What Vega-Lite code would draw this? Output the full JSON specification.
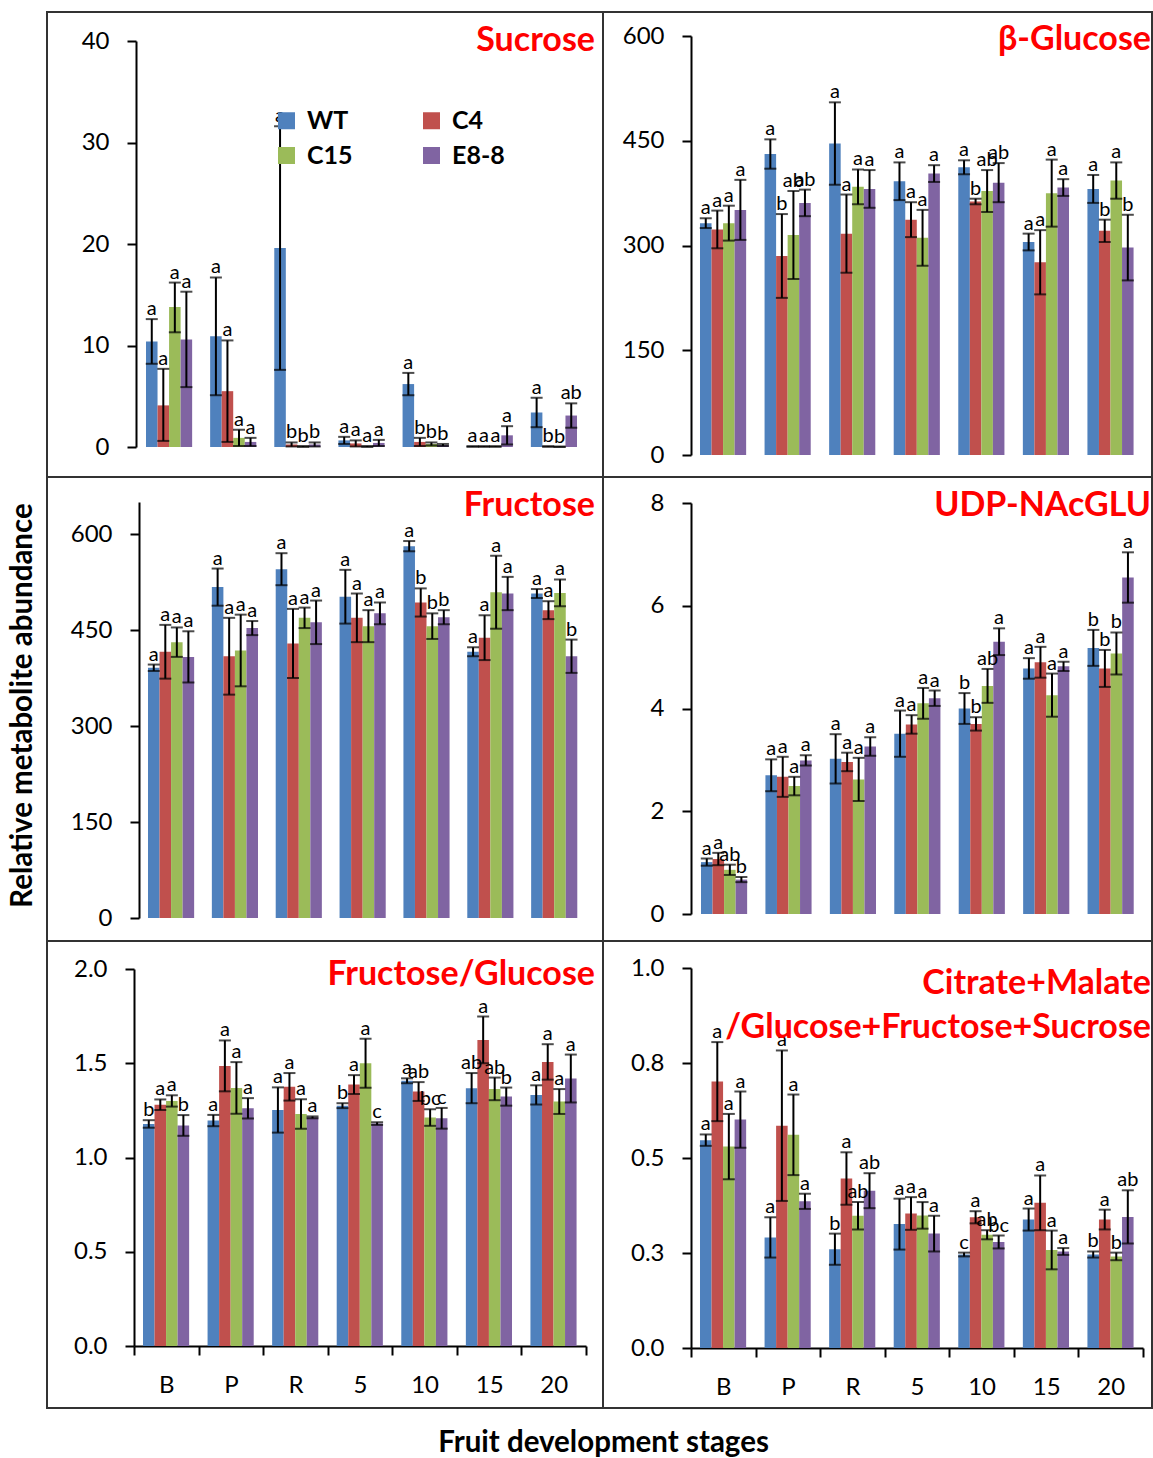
{
  "$schema": "https://vega.github.io/schema/vega-lite/v6.json",
  "padding": {"left": 5, "top": 11, "right": 0, "bottom": 0},
  "autosize": {"type": "pad"},
  "background": "white",
  "config": {
    "font": "Lato",
    "view": {"stroke": "#333333", "strokeWidth": 2, "fill": "white"},
    "axis": {
      "domainColor": "black",
      "domainWidth": 2,
      "tickColor": "black",
      "tickWidth": 2,
      "tickSize": 9,
      "labelFont": "Lato",
      "labelFontSize": 24,
      "labelColor": "black",
      "labelPadding": 18,
      "grid": false,
      "titleFont": "Lato"
    },
    "title": {
      "font": "Lato",
      "fontSize": 34,
      "fontWeight": "bold",
      "color": "#FF0000",
      "anchor": "end",
      "frame": "group",
      "orient": "top",
      "baseline": "alphabetic"
    },
    "legend": {
      "orient": "none",
      "legendX": 227,
      "legendY": 96,
      "columns": 2,
      "symbolType": "square",
      "symbolSize": 289,
      "symbolStrokeWidth": 0,
      "symbolOpacity": 1,
      "labelFont": "Lato",
      "labelFontSize": 25,
      "labelFontWeight": "bold",
      "labelColor": "black",
      "labelOffset": 8,
      "labelLimit": 0,
      "columnPadding": 66,
      "rowPadding": 9
    },
    "text": {"fontSize": 20, "color": "black"}
  },
  "datasets": {
    "sucrose": [
      {"s": "B", "g": "WT", "v": 10.4, "lo": 8.2, "hi": 12.6, "t": "a"},
      {"s": "B", "g": "C4", "v": 4.1, "lo": 0.6, "hi": 7.7, "t": "a"},
      {"s": "B", "g": "C15", "v": 13.8, "lo": 11.3, "hi": 16.2, "t": "a"},
      {"s": "B", "g": "E8-8", "v": 10.6, "lo": 5.9, "hi": 15.3, "t": "a"},
      {"s": "P", "g": "WT", "v": 10.9, "lo": 5.1, "hi": 16.7, "t": "a"},
      {"s": "P", "g": "C4", "v": 5.5, "lo": 0.5, "hi": 10.5, "t": "a"},
      {"s": "P", "g": "C15", "v": 0.9, "lo": 0.1, "hi": 1.7, "t": "a"},
      {"s": "P", "g": "E8-8", "v": 0.5, "lo": 0.1, "hi": 0.9, "t": "a"},
      {"s": "R", "g": "WT", "v": 19.6, "lo": 7.6, "hi": 31.6, "t": "a"},
      {"s": "R", "g": "C4", "v": 0.25, "lo": 0.05, "hi": 0.45, "t": "b"},
      {"s": "R", "g": "C15", "v": 0.05, "lo": 0.0, "hi": 0.1, "t": "b"},
      {"s": "R", "g": "E8-8", "v": 0.25, "lo": 0.05, "hi": 0.45, "t": "b"},
      {"s": "5", "g": "WT", "v": 0.65, "lo": 0.3, "hi": 1.0, "t": "a"},
      {"s": "5", "g": "C4", "v": 0.35, "lo": 0.05, "hi": 0.65, "t": "a"},
      {"s": "5", "g": "C15", "v": 0.05, "lo": 0.0, "hi": 0.1, "t": "a"},
      {"s": "5", "g": "E8-8", "v": 0.4, "lo": 0.1, "hi": 0.7, "t": "a"},
      {"s": "10", "g": "WT", "v": 6.2, "lo": 5.1, "hi": 7.3, "t": "a"},
      {"s": "10", "g": "C4", "v": 0.5, "lo": 0.1, "hi": 0.9, "t": "b"},
      {"s": "10", "g": "C15", "v": 0.3, "lo": 0.15, "hi": 0.45, "t": "b"},
      {"s": "10", "g": "E8-8", "v": 0.2, "lo": 0.1, "hi": 0.3, "t": "b"},
      {"s": "15", "g": "WT", "v": 0.05, "lo": 0.02, "hi": 0.08, "t": "a"},
      {"s": "15", "g": "C4", "v": 0.05, "lo": 0.02, "hi": 0.08, "t": "a"},
      {"s": "15", "g": "C15", "v": 0.05, "lo": 0.02, "hi": 0.08, "t": "a"},
      {"s": "15", "g": "E8-8", "v": 1.15, "lo": 0.25, "hi": 2.05, "t": "a"},
      {"s": "20", "g": "WT", "v": 3.4, "lo": 1.95, "hi": 4.85, "t": "a"},
      {"s": "20", "g": "C4", "v": 0.05, "lo": 0.02, "hi": 0.08, "t": "b"},
      {"s": "20", "g": "C15", "v": 0.02, "lo": 0.0, "hi": 0.04, "t": "b"},
      {"s": "20", "g": "E8-8", "v": 3.1, "lo": 1.9, "hi": 4.3, "t": "ab"}
    ],
    "glucose": [
      {"s": "B", "g": "WT", "v": 332, "lo": 325, "hi": 339, "t": "a"},
      {"s": "B", "g": "C4", "v": 323, "lo": 296, "hi": 350, "t": "a"},
      {"s": "B", "g": "C15", "v": 332, "lo": 307, "hi": 357, "t": "a"},
      {"s": "B", "g": "E8-8", "v": 351, "lo": 308, "hi": 394, "t": "a"},
      {"s": "P", "g": "WT", "v": 431, "lo": 410, "hi": 452, "t": "a"},
      {"s": "P", "g": "C4", "v": 285, "lo": 225, "hi": 345, "t": "b"},
      {"s": "P", "g": "C15", "v": 315, "lo": 252, "hi": 378, "t": "ab"},
      {"s": "P", "g": "E8-8", "v": 361, "lo": 342, "hi": 380, "t": "ab"},
      {"s": "R", "g": "WT", "v": 446, "lo": 387, "hi": 505, "t": "a"},
      {"s": "R", "g": "C4", "v": 317, "lo": 261, "hi": 373, "t": "a"},
      {"s": "R", "g": "C15", "v": 384, "lo": 359, "hi": 409, "t": "a"},
      {"s": "R", "g": "E8-8", "v": 381, "lo": 354, "hi": 408, "t": "a"},
      {"s": "5", "g": "WT", "v": 392, "lo": 365, "hi": 419, "t": "a"},
      {"s": "5", "g": "C4", "v": 337, "lo": 312, "hi": 362, "t": "a"},
      {"s": "5", "g": "C15", "v": 311, "lo": 271, "hi": 351, "t": "a"},
      {"s": "5", "g": "E8-8", "v": 403, "lo": 391, "hi": 415, "t": "a"},
      {"s": "10", "g": "WT", "v": 412, "lo": 402, "hi": 422, "t": "a"},
      {"s": "10", "g": "C4", "v": 363, "lo": 359, "hi": 367, "t": "b"},
      {"s": "10", "g": "C15", "v": 378, "lo": 348, "hi": 408, "t": "ab"},
      {"s": "10", "g": "E8-8", "v": 390, "lo": 362, "hi": 418, "t": "ab"},
      {"s": "15", "g": "WT", "v": 305, "lo": 293, "hi": 317, "t": "a"},
      {"s": "15", "g": "C4", "v": 276, "lo": 230, "hi": 322, "t": "a"},
      {"s": "15", "g": "C15", "v": 375, "lo": 327, "hi": 423, "t": "a"},
      {"s": "15", "g": "E8-8", "v": 383, "lo": 371, "hi": 395, "t": "a"},
      {"s": "20", "g": "WT", "v": 381, "lo": 361, "hi": 401, "t": "a"},
      {"s": "20", "g": "C4", "v": 321, "lo": 305, "hi": 337, "t": "b"},
      {"s": "20", "g": "C15", "v": 393, "lo": 367, "hi": 419, "t": "a"},
      {"s": "20", "g": "E8-8", "v": 297, "lo": 250, "hi": 344, "t": "b"}
    ],
    "fructose": [
      {"s": "B", "g": "WT", "v": 391, "lo": 386, "hi": 396, "t": "a"},
      {"s": "B", "g": "C4", "v": 416, "lo": 374, "hi": 458, "t": "a"},
      {"s": "B", "g": "C15", "v": 431, "lo": 408, "hi": 454, "t": "a"},
      {"s": "B", "g": "E8-8", "v": 408, "lo": 368, "hi": 448, "t": "a"},
      {"s": "P", "g": "WT", "v": 517, "lo": 488, "hi": 546, "t": "a"},
      {"s": "P", "g": "C4", "v": 409, "lo": 349, "hi": 469, "t": "a"},
      {"s": "P", "g": "C15", "v": 418, "lo": 362, "hi": 474, "t": "a"},
      {"s": "P", "g": "E8-8", "v": 453, "lo": 442, "hi": 464, "t": "a"},
      {"s": "R", "g": "WT", "v": 545, "lo": 520, "hi": 570, "t": "a"},
      {"s": "R", "g": "C4", "v": 429, "lo": 375, "hi": 483, "t": "a"},
      {"s": "R", "g": "C15", "v": 469, "lo": 453, "hi": 485, "t": "a"},
      {"s": "R", "g": "E8-8", "v": 462, "lo": 428, "hi": 496, "t": "a"},
      {"s": "5", "g": "WT", "v": 502, "lo": 460, "hi": 544, "t": "a"},
      {"s": "5", "g": "C4", "v": 469, "lo": 431, "hi": 507, "t": "a"},
      {"s": "5", "g": "C15", "v": 456, "lo": 431, "hi": 481, "t": "a"},
      {"s": "5", "g": "E8-8", "v": 476, "lo": 459, "hi": 493, "t": "a"},
      {"s": "10", "g": "WT", "v": 581, "lo": 573, "hi": 589, "t": "a"},
      {"s": "10", "g": "C4", "v": 493, "lo": 471, "hi": 515, "t": "b"},
      {"s": "10", "g": "C15", "v": 456, "lo": 436, "hi": 476, "t": "b"},
      {"s": "10", "g": "E8-8", "v": 470, "lo": 459, "hi": 481, "t": "b"},
      {"s": "15", "g": "WT", "v": 416, "lo": 409, "hi": 423, "t": "a"},
      {"s": "15", "g": "C4", "v": 438, "lo": 403, "hi": 473, "t": "a"},
      {"s": "15", "g": "C15", "v": 509, "lo": 452, "hi": 566, "t": "a"},
      {"s": "15", "g": "E8-8", "v": 507, "lo": 481, "hi": 533, "t": "a"},
      {"s": "20", "g": "WT", "v": 507, "lo": 500, "hi": 514, "t": "a"},
      {"s": "20", "g": "C4", "v": 481, "lo": 467, "hi": 495, "t": "a"},
      {"s": "20", "g": "C15", "v": 508, "lo": 487, "hi": 529, "t": "a"},
      {"s": "20", "g": "E8-8", "v": 409, "lo": 383, "hi": 435, "t": "b"}
    ],
    "udp": [
      {"s": "B", "g": "WT", "v": 1.01, "lo": 0.94, "hi": 1.08, "t": "a"},
      {"s": "B", "g": "C4", "v": 1.07, "lo": 0.95, "hi": 1.19, "t": "a"},
      {"s": "B", "g": "C15", "v": 0.86, "lo": 0.76, "hi": 0.96, "t": "ab"},
      {"s": "B", "g": "E8-8", "v": 0.67, "lo": 0.62, "hi": 0.72, "t": "b"},
      {"s": "P", "g": "WT", "v": 2.70, "lo": 2.39, "hi": 3.01, "t": "a"},
      {"s": "P", "g": "C4", "v": 2.67, "lo": 2.28, "hi": 3.06, "t": "a"},
      {"s": "P", "g": "C15", "v": 2.49, "lo": 2.31, "hi": 2.67, "t": "a"},
      {"s": "P", "g": "E8-8", "v": 2.99, "lo": 2.89, "hi": 3.09, "t": "a"},
      {"s": "R", "g": "WT", "v": 3.02, "lo": 2.54, "hi": 3.50, "t": "a"},
      {"s": "R", "g": "C4", "v": 2.96, "lo": 2.78, "hi": 3.14, "t": "a"},
      {"s": "R", "g": "C15", "v": 2.62, "lo": 2.2, "hi": 3.04, "t": "a"},
      {"s": "R", "g": "E8-8", "v": 3.26, "lo": 3.08, "hi": 3.44, "t": "a"},
      {"s": "5", "g": "WT", "v": 3.51, "lo": 3.06, "hi": 3.96, "t": "a"},
      {"s": "5", "g": "C4", "v": 3.69, "lo": 3.51, "hi": 3.87, "t": "a"},
      {"s": "5", "g": "C15", "v": 4.1, "lo": 3.8, "hi": 4.4, "t": "a"},
      {"s": "5", "g": "E8-8", "v": 4.2, "lo": 4.05, "hi": 4.35, "t": "a"},
      {"s": "10", "g": "WT", "v": 4.0, "lo": 3.7, "hi": 4.3, "t": "b"},
      {"s": "10", "g": "C4", "v": 3.7, "lo": 3.57, "hi": 3.83, "t": "b"},
      {"s": "10", "g": "C15", "v": 4.44, "lo": 4.11, "hi": 4.77, "t": "ab"},
      {"s": "10", "g": "E8-8", "v": 5.3, "lo": 5.04, "hi": 5.56, "t": "a"},
      {"s": "15", "g": "WT", "v": 4.78, "lo": 4.58, "hi": 4.98, "t": "a"},
      {"s": "15", "g": "C4", "v": 4.9, "lo": 4.6, "hi": 5.2, "t": "a"},
      {"s": "15", "g": "C15", "v": 4.26, "lo": 3.84, "hi": 4.68, "t": "a"},
      {"s": "15", "g": "E8-8", "v": 4.82, "lo": 4.73, "hi": 4.91, "t": "a"},
      {"s": "20", "g": "WT", "v": 5.18, "lo": 4.83, "hi": 5.53, "t": "b"},
      {"s": "20", "g": "C4", "v": 4.78, "lo": 4.42, "hi": 5.14, "t": "b"},
      {"s": "20", "g": "C15", "v": 5.07, "lo": 4.66, "hi": 5.48, "t": "b"},
      {"s": "20", "g": "E8-8", "v": 6.55, "lo": 6.06, "hi": 7.04, "t": "a"}
    ],
    "fg": [
      {"s": "B", "g": "WT", "v": 1.178, "lo": 1.158, "hi": 1.198, "t": "b"},
      {"s": "B", "g": "C4", "v": 1.28, "lo": 1.252, "hi": 1.308, "t": "a"},
      {"s": "B", "g": "C15", "v": 1.30, "lo": 1.27, "hi": 1.33, "t": "a"},
      {"s": "B", "g": "E8-8", "v": 1.17, "lo": 1.115, "hi": 1.225, "t": "b"},
      {"s": "P", "g": "WT", "v": 1.196, "lo": 1.166, "hi": 1.226, "t": "a"},
      {"s": "P", "g": "C4", "v": 1.486, "lo": 1.351, "hi": 1.621, "t": "a"},
      {"s": "P", "g": "C15", "v": 1.369, "lo": 1.232, "hi": 1.506, "t": "a"},
      {"s": "P", "g": "E8-8", "v": 1.261, "lo": 1.207, "hi": 1.315, "t": "a"},
      {"s": "R", "g": "WT", "v": 1.252, "lo": 1.132, "hi": 1.372, "t": "a"},
      {"s": "R", "g": "C4", "v": 1.375, "lo": 1.302, "hi": 1.448, "t": "a"},
      {"s": "R", "g": "C15", "v": 1.231, "lo": 1.153, "hi": 1.309, "t": "a"},
      {"s": "R", "g": "E8-8", "v": 1.213, "lo": 1.208, "hi": 1.218, "t": "a"},
      {"s": "5", "g": "WT", "v": 1.275, "lo": 1.262, "hi": 1.288, "t": "b"},
      {"s": "5", "g": "C4", "v": 1.387, "lo": 1.337, "hi": 1.437, "t": "a"},
      {"s": "5", "g": "C15", "v": 1.5, "lo": 1.37, "hi": 1.63, "t": "a"},
      {"s": "5", "g": "E8-8", "v": 1.18, "lo": 1.173, "hi": 1.187, "t": "c"},
      {"s": "10", "g": "WT", "v": 1.407, "lo": 1.394, "hi": 1.42, "t": "a"},
      {"s": "10", "g": "C4", "v": 1.35, "lo": 1.30, "hi": 1.40, "t": "ab"},
      {"s": "10", "g": "C15", "v": 1.212, "lo": 1.168, "hi": 1.256, "t": "bc"},
      {"s": "10", "g": "E8-8", "v": 1.208, "lo": 1.153, "hi": 1.263, "t": "c"},
      {"s": "15", "g": "WT", "v": 1.368, "lo": 1.288, "hi": 1.448, "t": "ab"},
      {"s": "15", "g": "C4", "v": 1.624, "lo": 1.5, "hi": 1.748, "t": "a"},
      {"s": "15", "g": "C15", "v": 1.364, "lo": 1.304, "hi": 1.424, "t": "ab"},
      {"s": "15", "g": "E8-8", "v": 1.323, "lo": 1.275, "hi": 1.371, "t": "b"},
      {"s": "20", "g": "WT", "v": 1.332, "lo": 1.281, "hi": 1.383, "t": "a"},
      {"s": "20", "g": "C4", "v": 1.507, "lo": 1.413, "hi": 1.601, "t": "a"},
      {"s": "20", "g": "C15", "v": 1.297, "lo": 1.231, "hi": 1.363, "t": "a"},
      {"s": "20", "g": "E8-8", "v": 1.419, "lo": 1.292, "hi": 1.546, "t": "a"}
    ],
    "ratio": [
      {"s": "B", "g": "WT", "v": 0.547, "lo": 0.532, "hi": 0.562, "t": "a"},
      {"s": "B", "g": "C4", "v": 0.701, "lo": 0.597, "hi": 0.805, "t": "a"},
      {"s": "B", "g": "C15", "v": 0.53, "lo": 0.444, "hi": 0.616, "t": "a"},
      {"s": "B", "g": "E8-8", "v": 0.601, "lo": 0.527, "hi": 0.675, "t": "a"},
      {"s": "P", "g": "WT", "v": 0.291, "lo": 0.238, "hi": 0.344, "t": "a"},
      {"s": "P", "g": "C4", "v": 0.585, "lo": 0.387, "hi": 0.783, "t": "a"},
      {"s": "P", "g": "C15", "v": 0.561, "lo": 0.455, "hi": 0.667, "t": "a"},
      {"s": "P", "g": "E8-8", "v": 0.386, "lo": 0.366, "hi": 0.406, "t": "a"},
      {"s": "R", "g": "WT", "v": 0.26, "lo": 0.219, "hi": 0.301, "t": "b"},
      {"s": "R", "g": "C4", "v": 0.446, "lo": 0.377, "hi": 0.515, "t": "a"},
      {"s": "R", "g": "C15", "v": 0.348, "lo": 0.312, "hi": 0.384, "t": "ab"},
      {"s": "R", "g": "E8-8", "v": 0.414, "lo": 0.368, "hi": 0.46, "t": "ab"},
      {"s": "5", "g": "WT", "v": 0.326, "lo": 0.259, "hi": 0.393, "t": "a"},
      {"s": "5", "g": "C4", "v": 0.354, "lo": 0.311, "hi": 0.397, "t": "a"},
      {"s": "5", "g": "C15", "v": 0.349, "lo": 0.314, "hi": 0.384, "t": "a"},
      {"s": "5", "g": "E8-8", "v": 0.301, "lo": 0.254, "hi": 0.348, "t": "a"},
      {"s": "10", "g": "WT", "v": 0.246, "lo": 0.241, "hi": 0.251, "t": "c"},
      {"s": "10", "g": "C4", "v": 0.344, "lo": 0.328, "hi": 0.36, "t": "a"},
      {"s": "10", "g": "C15", "v": 0.298, "lo": 0.286, "hi": 0.31, "t": "ab"},
      {"s": "10", "g": "E8-8", "v": 0.279, "lo": 0.262, "hi": 0.296, "t": "bc"},
      {"s": "15", "g": "WT", "v": 0.338, "lo": 0.309, "hi": 0.367, "t": "a"},
      {"s": "15", "g": "C4", "v": 0.382, "lo": 0.31, "hi": 0.454, "t": "a"},
      {"s": "15", "g": "C15", "v": 0.258, "lo": 0.207, "hi": 0.309, "t": "a"},
      {"s": "15", "g": "E8-8", "v": 0.254, "lo": 0.245, "hi": 0.263, "t": "a"},
      {"s": "20", "g": "WT", "v": 0.246, "lo": 0.238, "hi": 0.254, "t": "b"},
      {"s": "20", "g": "C4", "v": 0.338, "lo": 0.312, "hi": 0.364, "t": "a"},
      {"s": "20", "g": "C15", "v": 0.241, "lo": 0.231, "hi": 0.251, "t": "b"},
      {"s": "20", "g": "E8-8", "v": 0.345, "lo": 0.275, "hi": 0.415, "t": "ab"}
    ]
  },
  "columns": 2,
  "spacing": 0,
  "bounds": "flush",
  "concat": [
    {
      "width": 556, "height": 465,
      "data": {"name": "sucrose"},
      "title": {"text": "Sucrose", "dx": -8, "offset": -46},
      "encoding": {
        "x": {"field": "s", "type": "nominal", "scale": {"domain": ["B", "P", "R", "5", "10", "15", "20"], "range": [90, 539], "paddingInner": 0, "paddingOuter": 0}, "axis": null},
        "xOffset": {"field": "g", "type": "nominal", "scale": {"domain": ["WT", "C4", "C15", "E8-8"], "paddingInner": 0, "paddingOuter": 0.78}}
      },
      "layer": [
        {"mark": "bar", "encoding": {
          "y": {"field": "v", "type": "quantitative", "scale": {"domain": [0, 40], "range": [435, 29], "nice": false}, "axis": {"values": [0, 10, 20, 30, 40], "format": "d", "offset": -89, "title": null}},
          "color": {"field": "g", "type": "nominal", "scale": {"domain": ["WT", "C15", "C4", "E8-8"], "range": ["#4F81BD", "#9BBB59", "#C0504D", "#8064A2"]}, "legend": {"title": null}}}},
        {"mark": {"type": "rule", "color": "black", "strokeWidth": 2}, "encoding": {"y": {"field": "lo", "type": "quantitative", "scale": {"domain": [0, 40], "range": [435, 29], "nice": false}}, "y2": {"field": "hi"}}},
        {"mark": {"type": "tick", "color": "black", "thickness": 2, "size": 12}, "encoding": {"y": {"field": "lo", "type": "quantitative", "scale": {"domain": [0, 40], "range": [435, 29], "nice": false}}}},
        {"mark": {"type": "tick", "color": "black", "thickness": 2, "size": 12}, "encoding": {"y": {"field": "hi", "type": "quantitative", "scale": {"domain": [0, 40], "range": [435, 29], "nice": false}}}},
        {"mark": {"type": "text", "baseline": "alphabetic", "dy": -4}, "encoding": {"y": {"field": "hi", "type": "quantitative", "scale": {"domain": [0, 40], "range": [435, 29], "nice": false}}, "text": {"field": "t"}}}
      ]
    },
    {
      "width": 549, "height": 465,
      "data": {"name": "glucose"},
      "title": {"text": "β-Glucose", "dx": -1, "offset": -45},
      "encoding": {
        "x": {"field": "s", "type": "nominal", "scale": {"domain": ["B", "P", "R", "5", "10", "15", "20"], "range": [88, 540], "paddingInner": 0, "paddingOuter": 0}, "axis": null},
        "xOffset": {"field": "g", "type": "nominal", "scale": {"domain": ["WT", "C4", "C15", "E8-8"], "paddingInner": 0, "paddingOuter": 0.78}}
      },
      "layer": [
        {"mark": "bar", "encoding": {
          "y": {"field": "v", "type": "quantitative", "scale": {"domain": [0, 600], "range": [443, 24], "nice": false}, "axis": {"values": [0, 150, 300, 450, 600], "format": "d", "offset": -88, "title": null}},
          "color": {"field": "g", "type": "nominal", "scale": {"domain": ["WT", "C15", "C4", "E8-8"], "range": ["#4F81BD", "#9BBB59", "#C0504D", "#8064A2"]}, "legend": {"title": null}}}},
        {"mark": {"type": "rule", "color": "black", "strokeWidth": 2}, "encoding": {"y": {"field": "lo", "type": "quantitative", "scale": {"domain": [0, 600], "range": [443, 24], "nice": false}}, "y2": {"field": "hi"}}},
        {"mark": {"type": "tick", "color": "black", "thickness": 2, "size": 12}, "encoding": {"y": {"field": "lo", "type": "quantitative", "scale": {"domain": [0, 600], "range": [443, 24], "nice": false}}}},
        {"mark": {"type": "tick", "color": "black", "thickness": 2, "size": 12}, "encoding": {"y": {"field": "hi", "type": "quantitative", "scale": {"domain": [0, 600], "range": [443, 24], "nice": false}}}},
        {"mark": {"type": "text", "baseline": "alphabetic", "dy": -4}, "encoding": {"y": {"field": "hi", "type": "quantitative", "scale": {"domain": [0, 600], "range": [443, 24], "nice": false}}, "text": {"field": "t"}}}
      ]
    },
    {
      "width": 556, "height": 464,
      "data": {"name": "fructose"},
      "title": {"text": "Fructose", "dx": -8, "offset": -46},
      "encoding": {
        "x": {"field": "s", "type": "nominal", "scale": {"domain": ["B", "P", "R", "5", "10", "15", "20"], "range": [92, 539], "paddingInner": 0, "paddingOuter": 0}, "axis": null},
        "xOffset": {"field": "g", "type": "nominal", "scale": {"domain": ["WT", "C4", "C15", "E8-8"], "paddingInner": 0, "paddingOuter": 0.78}}
      },
      "layer": [
        {"mark": "bar", "encoding": {
          "y": {"field": "v", "type": "quantitative", "scale": {"domain": [0, 650], "range": [441, 25], "nice": false}, "axis": {"values": [0, 150, 300, 450, 600], "format": "d", "offset": -92, "title": "Relative metabolite abundance", "titleFontSize": 29.5, "titleFontWeight": "bold", "titleColor": "black", "titleAngle": 270, "titleAlign": "center", "titleBaseline": "middle", "titleX": -117, "titleY": 228}},
          "color": {"field": "g", "type": "nominal", "scale": {"domain": ["WT", "C15", "C4", "E8-8"], "range": ["#4F81BD", "#9BBB59", "#C0504D", "#8064A2"]}, "legend": {"title": null}}}},
        {"mark": {"type": "rule", "color": "black", "strokeWidth": 2}, "encoding": {"y": {"field": "lo", "type": "quantitative", "scale": {"domain": [0, 650], "range": [441, 25], "nice": false}}, "y2": {"field": "hi"}}},
        {"mark": {"type": "tick", "color": "black", "thickness": 2, "size": 12}, "encoding": {"y": {"field": "lo", "type": "quantitative", "scale": {"domain": [0, 650], "range": [441, 25], "nice": false}}}},
        {"mark": {"type": "tick", "color": "black", "thickness": 2, "size": 12}, "encoding": {"y": {"field": "hi", "type": "quantitative", "scale": {"domain": [0, 650], "range": [441, 25], "nice": false}}}},
        {"mark": {"type": "text", "baseline": "alphabetic", "dy": -4}, "encoding": {"y": {"field": "hi", "type": "quantitative", "scale": {"domain": [0, 650], "range": [441, 25], "nice": false}}, "text": {"field": "t"}}}
      ]
    },
    {
      "width": 549, "height": 464,
      "data": {"name": "udp"},
      "title": {"text": "UDP-NAcGLU", "dx": -1, "offset": -46},
      "encoding": {
        "x": {"field": "s", "type": "nominal", "scale": {"domain": ["B", "P", "R", "5", "10", "15", "20"], "range": [89, 540], "paddingInner": 0, "paddingOuter": 0}, "axis": null},
        "xOffset": {"field": "g", "type": "nominal", "scale": {"domain": ["WT", "C4", "C15", "E8-8"], "paddingInner": 0, "paddingOuter": 0.78}}
      },
      "layer": [
        {"mark": "bar", "encoding": {
          "y": {"field": "v", "type": "quantitative", "scale": {"domain": [0, 8], "range": [437, 26], "nice": false}, "axis": {"values": [0, 2, 4, 6, 8], "format": "d", "offset": -88, "title": null}},
          "color": {"field": "g", "type": "nominal", "scale": {"domain": ["WT", "C15", "C4", "E8-8"], "range": ["#4F81BD", "#9BBB59", "#C0504D", "#8064A2"]}, "legend": {"title": null}}}},
        {"mark": {"type": "rule", "color": "black", "strokeWidth": 2}, "encoding": {"y": {"field": "lo", "type": "quantitative", "scale": {"domain": [0, 8], "range": [437, 26], "nice": false}}, "y2": {"field": "hi"}}},
        {"mark": {"type": "tick", "color": "black", "thickness": 2, "size": 12}, "encoding": {"y": {"field": "lo", "type": "quantitative", "scale": {"domain": [0, 8], "range": [437, 26], "nice": false}}}},
        {"mark": {"type": "tick", "color": "black", "thickness": 2, "size": 12}, "encoding": {"y": {"field": "hi", "type": "quantitative", "scale": {"domain": [0, 8], "range": [437, 26], "nice": false}}}},
        {"mark": {"type": "text", "baseline": "alphabetic", "dy": -4}, "encoding": {"y": {"field": "hi", "type": "quantitative", "scale": {"domain": [0, 8], "range": [437, 26], "nice": false}}, "text": {"field": "t"}}}
      ]
    },
    {
      "width": 556, "height": 467,
      "data": {"name": "fg"},
      "title": {"text": "Fructose/Glucose", "dx": -8, "offset": -51},
      "encoding": {
        "x": {"field": "s", "type": "nominal", "scale": {"domain": ["B", "P", "R", "5", "10", "15", "20"], "range": [87, 539], "paddingInner": 0, "paddingOuter": 0}, "axis": {"orient": "bottom", "offset": -62, "tickBand": "extent", "labelAngle": 0, "title": "Fruit development stages", "titleFontSize": 29.5, "titleFontWeight": "bold", "titleColor": "black", "titleAlign": "center", "titleBaseline": "alphabetic", "titleX": 556, "titleY": 105}},
        "xOffset": {"field": "g", "type": "nominal", "scale": {"domain": ["WT", "C4", "C15", "E8-8"], "paddingInner": 0, "paddingOuter": 0.78}}
      },
      "layer": [
        {"mark": "bar", "encoding": {
          "y": {"field": "v", "type": "quantitative", "scale": {"domain": [0, 2], "range": [405, 28], "nice": false}, "axis": {"values": [0, 0.5, 1, 1.5, 2], "format": ".1f", "offset": -87, "title": null}},
          "color": {"field": "g", "type": "nominal", "scale": {"domain": ["WT", "C15", "C4", "E8-8"], "range": ["#4F81BD", "#9BBB59", "#C0504D", "#8064A2"]}, "legend": {"title": null}}}},
        {"mark": {"type": "rule", "color": "black", "strokeWidth": 2}, "encoding": {"y": {"field": "lo", "type": "quantitative", "scale": {"domain": [0, 2], "range": [405, 28], "nice": false}}, "y2": {"field": "hi"}}},
        {"mark": {"type": "tick", "color": "black", "thickness": 2, "size": 12}, "encoding": {"y": {"field": "lo", "type": "quantitative", "scale": {"domain": [0, 2], "range": [405, 28], "nice": false}}}},
        {"mark": {"type": "tick", "color": "black", "thickness": 2, "size": 12}, "encoding": {"y": {"field": "hi", "type": "quantitative", "scale": {"domain": [0, 2], "range": [405, 28], "nice": false}}}},
        {"mark": {"type": "text", "baseline": "alphabetic", "dy": -4}, "encoding": {"y": {"field": "hi", "type": "quantitative", "scale": {"domain": [0, 2], "range": [405, 28], "nice": false}}, "text": {"field": "t"}}}
      ]
    },
    {
      "width": 549, "height": 467,
      "data": {"name": "ratio"},
      "title": {"text": ["Citrate+Malate", "/Glucose+Fructose+Sucrose"], "dx": -1, "offset": -104, "lineHeight": 44},
      "encoding": {
        "x": {"field": "s", "type": "nominal", "scale": {"domain": ["B", "P", "R", "5", "10", "15", "20"], "range": [88, 540], "paddingInner": 0, "paddingOuter": 0}, "axis": {"orient": "bottom", "offset": -60, "tickBand": "extent", "labelAngle": 0, "title": null}},
        "xOffset": {"field": "g", "type": "nominal", "scale": {"domain": ["WT", "C4", "C15", "E8-8"], "paddingInner": 0, "paddingOuter": 0.78}}
      },
      "layer": [
        {"mark": "bar", "encoding": {
          "y": {"field": "v", "type": "quantitative", "scale": {"domain": [0, 1], "range": [407, 27], "nice": false}, "axis": {"values": [0, 0.25, 0.5, 0.75, 1], "format": ".1f", "offset": -88, "title": null}},
          "color": {"field": "g", "type": "nominal", "scale": {"domain": ["WT", "C15", "C4", "E8-8"], "range": ["#4F81BD", "#9BBB59", "#C0504D", "#8064A2"]}, "legend": {"title": null}}}},
        {"mark": {"type": "rule", "color": "black", "strokeWidth": 2}, "encoding": {"y": {"field": "lo", "type": "quantitative", "scale": {"domain": [0, 1], "range": [407, 27], "nice": false}}, "y2": {"field": "hi"}}},
        {"mark": {"type": "tick", "color": "black", "thickness": 2, "size": 12}, "encoding": {"y": {"field": "lo", "type": "quantitative", "scale": {"domain": [0, 1], "range": [407, 27], "nice": false}}}},
        {"mark": {"type": "tick", "color": "black", "thickness": 2, "size": 12}, "encoding": {"y": {"field": "hi", "type": "quantitative", "scale": {"domain": [0, 1], "range": [407, 27], "nice": false}}}},
        {"mark": {"type": "text", "baseline": "alphabetic", "dy": -4}, "encoding": {"y": {"field": "hi", "type": "quantitative", "scale": {"domain": [0, 1], "range": [407, 27], "nice": false}}, "text": {"field": "t"}}}
      ]
    }
  ]
}
